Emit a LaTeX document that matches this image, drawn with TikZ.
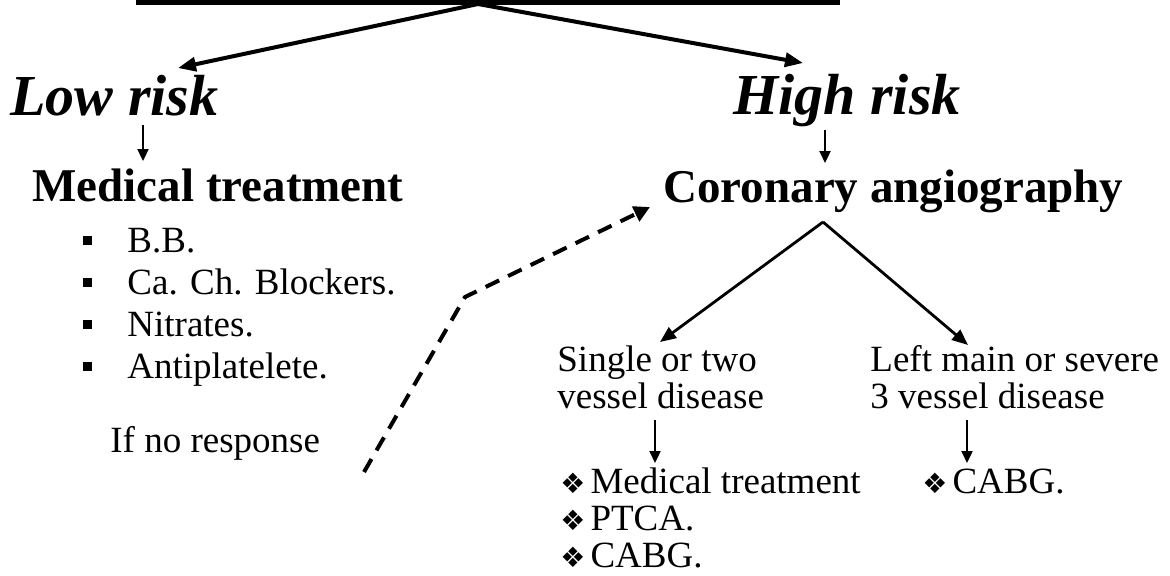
\documentclass[tikz,border=0pt]{standalone}
\usepackage{fontspec}
\setmainfont{Liberation Serif}
\newfontfamily\symfont{DejaVu Sans}
\usetikzlibrary{arrows.meta}
\newcommand{\dia}{{\symfont\fontsize{14}{14}\selectfont\char"2756}\hspace{2.5pt}}
\begin{document}
\begin{tikzpicture}[x=0.5pt,y=-0.5pt,
  risk/.style={anchor=base west,inner sep=0pt,font=\fontsize{29}{29}\selectfont\bfseries\itshape},
  head/.style={anchor=base west,inner sep=0pt,font=\fontsize{23.5}{24}\selectfont\bfseries},
  txt/.style={anchor=base west,inner sep=0pt,font=\fontsize{18.5}{18}\selectfont},
  sq/.style={fill,inner sep=0pt,minimum size=4.5pt},
  bigarrow/.style={line width=2pt,-{Triangle[length=9pt,width=7pt]}},
  midarrow/.style={line width=1.4pt,-{Triangle[length=8pt,width=6.5pt]}},
  smallarrow/.style={line width=1.1pt,-{Triangle[length=6pt,width=5.5pt]}},
  dasharrow/.style={line width=2pt,dash pattern=on 7.5pt off 5pt,-{Triangle[length=8pt,width=8pt]}}]
\useasboundingbox (0,0) rectangle (1170,575);
\draw[line width=2.5pt] (136,2.5) -- (840,2.5);
\coordinate (apex) at (478,4);
\coordinate (lowtip) at (178,68);
\coordinate (hightip) at (803,63);
\node[risk] (low) at (10,115) {Low risk};
\node[risk] (high) at (733,114) {High risk};
\draw[bigarrow] (apex) -- (lowtip);
\draw[bigarrow] (apex) -- (hightip);
\coordinate (low0) at (143,125);
\coordinate (low1) at (143,161);
\coordinate (high0) at (825,130);
\coordinate (high1) at (825,163);
\draw[smallarrow] (low0) -- (low1);
\draw[smallarrow] (high0) -- (high1);
\node[head] (med) at (32,201) {Medical treatment};
\node[head] (cor) at (663,202) {Coronary angiography};
\node[txt] (bb) at (127,252) {B.B.};
\node[txt] (ca) at (127,294) {Ca. Ch. Blockers.};
\node[txt] (ni) at (127,336) {Nitrates.};
\node[txt] (an) at (127,378) {Antiplatelete.};
\node[sq] (s1) at (87,240) {};
\node[sq] (s2) at (87,282) {};
\node[sq] (s3) at (87,324) {};
\node[sq] (s4) at (87,366) {};
\node[txt] (resp) at (110,452) {If no response};
\coordinate (d0) at (364,472);
\coordinate (d1) at (465,297);
\coordinate (d2) at (650,207);
\draw[dasharrow] (d0) -- (d1) -- (d2);
\coordinate (cortop) at (823,222);
\coordinate (sgtip) at (660,342);
\coordinate (lmtip) at (968,345);
\draw[midarrow] (cortop) -- (sgtip);
\draw[midarrow] (cortop) -- (lmtip);
\node[txt] (sg1) at (557,371) {Single or two};
\node[txt] (sg2) at (557,408) {vessel disease};
\node[txt] (lm1) at (870,371) {Left main or severe};
\node[txt] (lm2) at (870,408) {3 vessel disease};
\coordinate (sg0) at (655,420);
\coordinate (sgd) at (655,463);
\coordinate (lm0) at (967,420);
\coordinate (lmd) at (967,463);
\draw[smallarrow] (sg0) -- (sgd);
\draw[smallarrow] (lm0) -- (lmd);
\node[txt] (t1) at (560,493) {\dia Medical treatment};
\node[txt] (t2) at (560,530) {\dia PTCA.};
\node[txt] (t3) at (560,567) {\dia CABG.};
\node[txt] (t4) at (922,493) {\dia CABG.};
\end{tikzpicture}
\end{document}
